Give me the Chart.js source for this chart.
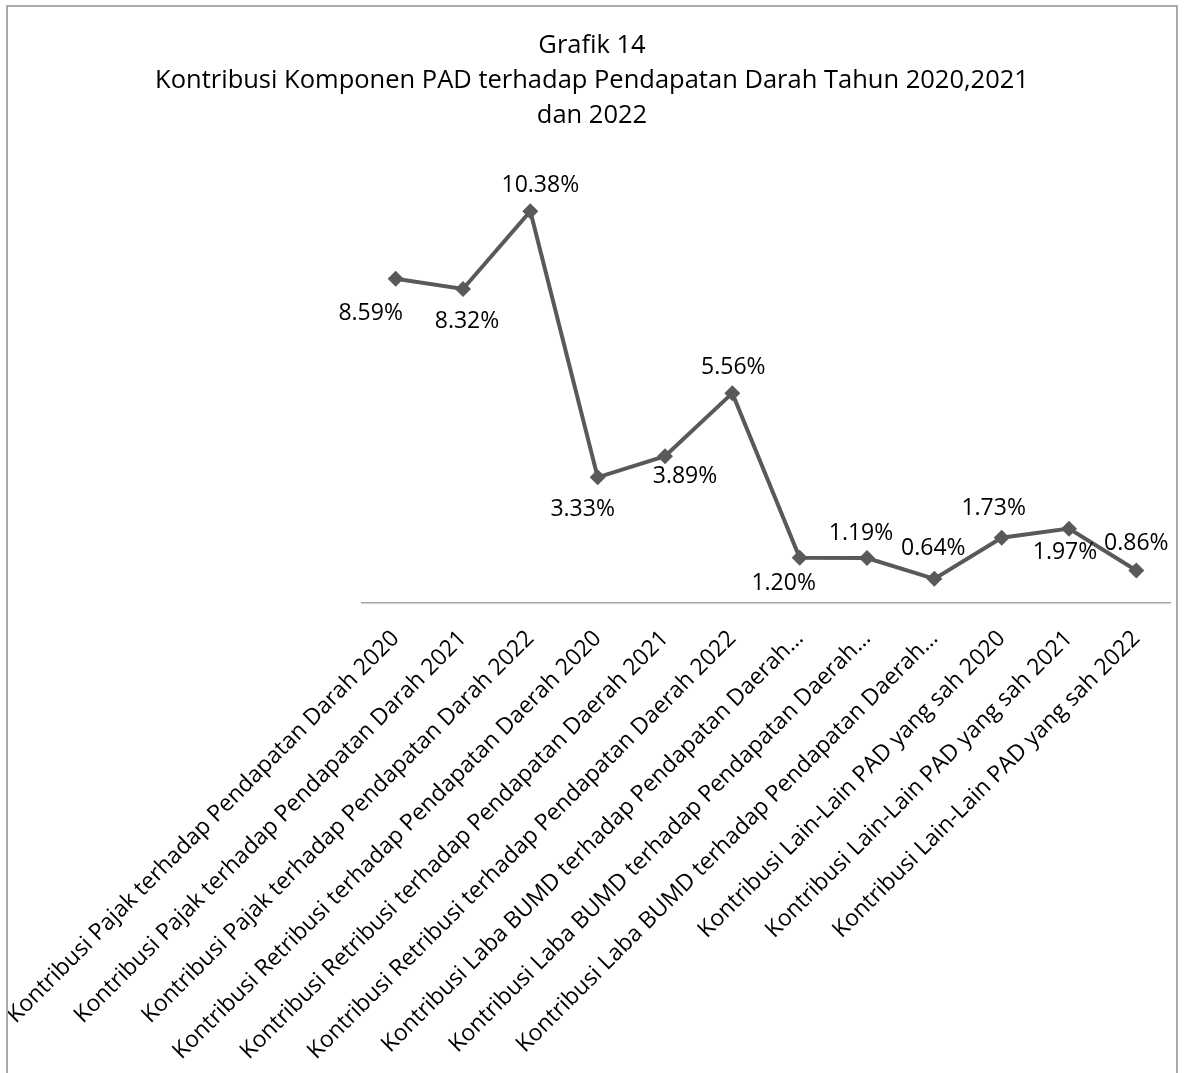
<!DOCTYPE html>
<html lang="id">
<head>
  <meta charset="UTF-8">
  <title>Grafik 14</title>
  <script src="https://cdn.jsdelivr.net/npm/chart.js"></script>
  <style>
    body {
      margin: 0;
      background-color: #fff;
    }
    #wrap {
      position: relative;
      width: 1184px;
      height: 1073px;
      overflow: hidden;
    }
    #frame {
      position: absolute;
      left: 6px;
      top: 5px;
      width: 1168px;
      height: 1100px;
      border: 2px solid #ababab;
      pointer-events: none;
    }
  </style>
</head>
<body>
  <div id="wrap">
    <canvas id="grafik"></canvas>
    <div id="frame"></div>
  </div>

  <script>
    const kategori = [
      'Kontribusi Pajak terhadap Pendapatan Darah 2020',
      'Kontribusi Pajak terhadap Pendapatan Darah 2021',
      'Kontribusi Pajak terhadap Pendapatan Darah 2022',
      'Kontribusi Retribusi terhadap Pendapatan Daerah 2020',
      'Kontribusi Retribusi terhadap Pendapatan Daerah 2021',
      'Kontribusi Retribusi terhadap Pendapatan Daerah 2022',
      'Kontribusi Laba BUMD terhadap Pendapatan Daerah…',
      'Kontribusi Laba BUMD terhadap Pendapatan Daerah…',
      'Kontribusi Laba BUMD terhadap Pendapatan Daerah…',
      'Kontribusi Lain-Lain PAD yang sah 2020',
      'Kontribusi Lain-Lain PAD yang sah 2021',
      'Kontribusi Lain-Lain PAD yang sah 2022'
    ];
    const kontribusi = [8.59, 8.32, 10.38, 3.33, 3.89, 5.56, 1.20, 1.19, 0.64, 1.73, 1.97, 0.86];
    const judul = [
      'Grafik 14',
      'Kontribusi Komponen PAD terhadap Pendapatan Darah Tahun 2020,2021',
      'dan 2022'
    ];

    // geser label nilai (x, y) terhadap titik
    const geserX = [-25, 4, 10, -15, 20, 1, -16, -6, -1, -8, -4, 0];
    const geserY = [35, 32, -26, 32, 20, -26, 26, -25, -30, -29, 24, -27];

    const labelNilai = {
      id: 'labelNilai',
      afterDatasetsDraw(chart) {
        const ctx = chart.ctx;
        const meta = chart.getDatasetMeta(0);
        ctx.save();
        ctx.font = '23px "Open Sans"';
        ctx.fillStyle = '#000';
        ctx.textAlign = 'center';
        ctx.textBaseline = 'middle';
        meta.data.forEach((pt, i) => {
          ctx.fillText(kontribusi[i].toFixed(2) + '%', pt.x + geserX[i], pt.y + geserY[i]);
        });
        ctx.restore();
      }
    };

    Chart.defaults.font.family = '"Open Sans", sans-serif';
    Chart.defaults.color = '#000';

    const ctx = document.getElementById('grafik').getContext('2d');
    new Chart(ctx, {
      type: 'line',
      data: {
        labels: kategori,
        datasets: [{
          data: kontribusi,
          borderColor: '#595959',
          borderWidth: 4,
          pointStyle: 'rectRot',
          pointRadius: 8,
          pointBackgroundColor: '#595959',
          pointBorderWidth: 0,
          tension: 0,
          fill: false
        }]
      },
      options: {
        responsive: true,
        maintainAspectRatio: false,
        animation: false,
        layout: { padding: { left: 14, right: 14, top: 0, bottom: 0 } },
        plugins: {
          legend: { display: false },
          tooltip: { enabled: false },
          title: {
            display: true,
            text: judul,
            color: '#000',
            font: { size: 25.5, weight: 'normal', lineHeight: 1.37 },
            padding: { top: 28, bottom: 55 }
          }
        },
        scales: {
          x: {
            offset: true,
            grid: { display: false, drawTicks: false },
            border: { display: true, color: '#a6a6a6', width: 1.5 },
            ticks: {
              autoSkip: false,
              minRotation: 45,
              maxRotation: 45,
              padding: 22,
              font: { size: 23 },
              color: '#000'
            },
            afterFit: (s) => {
              s.height = 470;
              s.paddingLeft = 0;
              s.paddingRight = 0;
            }
          },
          y: {
            min: 0,
            max: 11,
            grid: { display: false },
            border: { display: false },
            ticks: { display: false },
            afterFit: (s) => { s.width = 348; }
          }
        }
      },
      plugins: [labelNilai]
    });
  </script>
</body>
</html>
